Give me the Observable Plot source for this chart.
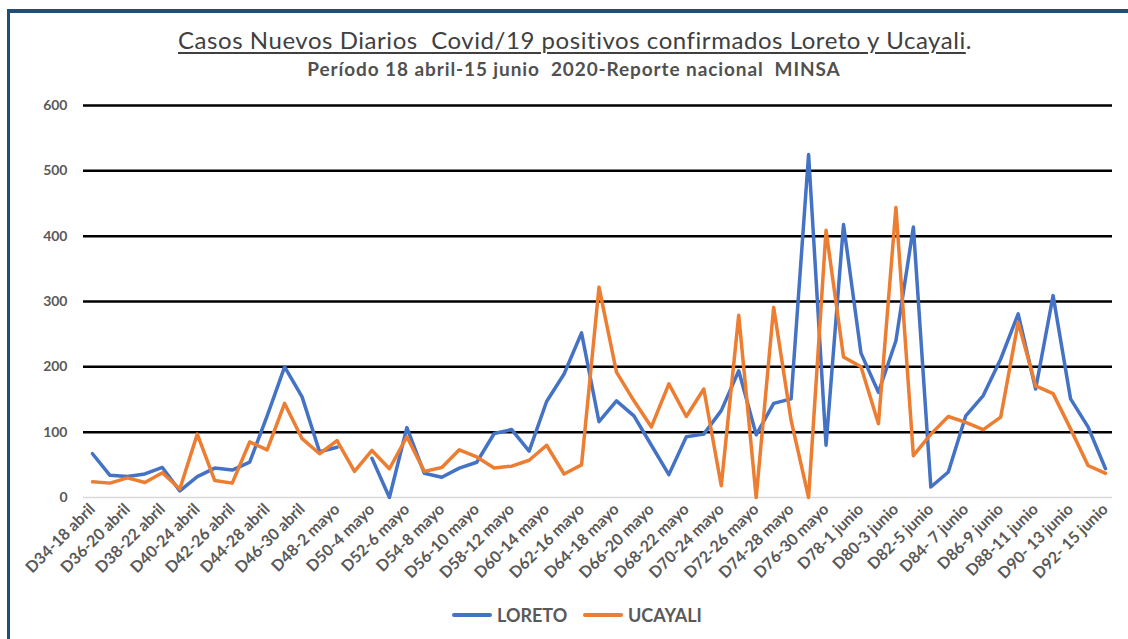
<!DOCTYPE html>
<html>
<head>
<meta charset="utf-8">
<script src="https://cdn.jsdelivr.net/npm/d3@7"></script>
<script src="https://cdn.jsdelivr.net/npm/@observablehq/plot@0.6"></script>
<style>
  html, body { margin:0; padding:0; background:#fff; width:1128px; height:639px; overflow:hidden; }
  #frame { position:absolute; left:7px; top:9px; width:1125px; height:640px;
           border-left:3px solid #1f4e79; border-top:4px solid #1f4e79; box-sizing:border-box; }
  #title { position:absolute; left:11px; top:25px; width:1128px; text-align:center;
           font-family:Lato, "Open Sans", sans-serif; font-size:24px; letter-spacing:0.55px; color:#404040; }
  #title span { text-decoration:underline; text-underline-offset:3px; text-decoration-thickness:1.5px; }
  #subtitle { position:absolute; left:10px; top:57px; width:1128px; text-align:center;
           font-family:Lato, "Open Sans", sans-serif; font-weight:bold; font-size:19px; letter-spacing:0.9px; color:#505050; }
  #chart { position:absolute; left:0; top:85px; }
  #legend { position:absolute; left:0; top:603px; width:1128px; font-family:Lato, "Open Sans", sans-serif;
            font-weight:bold; font-size:18px; color:#595959; }
  .item { position:absolute; top:0; display:flex; align-items:center; height:24px; }
  .sw { width:40px; height:4px; margin-right:5px; border-radius:2px; }
</style>
</head>
<body>
<div id="frame"></div>
<div id="title"><span>Casos Nuevos Diarios&nbsp; Covid/19 positivos confirmados Loreto y Ucayali</span>.</div>
<div id="subtitle">Período 18 abril-15 junio&nbsp; 2020-Reporte nacional&nbsp; MINSA</div>
<div id="chart"></div>
<div id="legend">
  <div class="item" style="left:452px"><div class="sw" style="background:#4472C4"></div>LORETO</div>
  <div class="item" style="left:583px"><div class="sw" style="background:#ED7D31"></div>UCAYALI</div>
</div>
<script>
const days = [
  "D34-18 abril","D35-19 abril","D36-20 abril","D37-21 abril","D38-22 abril","D39-23 abril",
  "D40-24 abril","D41-25 abril","D42-26 abril","D43-27 abril","D44-28 abril","D45-29 abril",
  "D46-30 abril","D47-1 mayo","D48-2 mayo","D49-3 mayo","D50-4 mayo","D51-5 mayo",
  "D52-6 mayo","D53-7 mayo","D54-8 mayo","D55-9 mayo","D56-10 mayo","D57-11 mayo",
  "D58-12 mayo","D59-13 mayo","D60-14 mayo","D61-15 mayo","D62-16 mayo","D63-17 mayo",
  "D64-18 mayo","D65-19 mayo","D66-20 mayo","D67-21 mayo","D68-22 mayo","D69-23 mayo",
  "D70-24 mayo","D71-25 mayo","D72-26 mayo","D73-27 mayo","D74-28 mayo","D75-29 mayo",
  "D76-30 mayo","D77-31 mayo","D78-1 junio","D79-2 junio","D80-3 junio","D81-4 junio",
  "D82-5 junio","D83-6 junio","D84- 7 junio","D85-8 junio","D86-9 junio","D87-10 junio",
  "D88-11 junio","D89-12 junio","D90- 13 junio","D91-14 junio","D92- 15 junio"
];
const shownLabels = days.filter((d, i) => i % 2 === 0);
const loreto = [
  67, 34, 32, 36, 46, 10,
  32, 45, 42, 54, 125, 200,
  154, 70, 77, null, 60, 0,
  107, 37, 31, 45, 54, 98,
  104, 71, 147, 189, 252, 116,
  148, 125, 80, 35, 93, 97,
  133, 194, 96, 144, 151, 525,
  80, 418, 221, 161, 240, 414,
  16, 39, 125, 156, 212, 281,
  166, 309, 151, 108, 44
];
const ucayali = [
  24, 22, 30, 23, 38, 13,
  97, 26, 22, 85, 73, 144,
  90, 67, 87, 40, 72, 44,
  93, 40, 46, 73, 62, 45,
  48, 57, 80, 36, 50, 322,
  192, 148, 108, 174, 124, 166,
  18, 279, 0, 291, 118, 0,
  409, 215, 200, 113, 444, 64,
  97, 124, 115, 104, 123, 268,
  171, 159, 105, 49, 37
];
const yTicks = [0, 100, 200, 300, 400, 500, 600];
const gridTicks = [100, 200, 300, 400, 500, 600];

const table = days.map((d, i) => ({day: d, loreto: loreto[i], ucayali: ucayali[i]}));

const chart = Plot.plot({
  width: 1128,
  height: 520,
  marginTop: 20,
  marginBottom: 108,
  marginLeft: 83,
  marginRight: 16,
  style: {fontFamily: "Lato, 'Open Sans', sans-serif", color: "#595959", background: "transparent"},
  x: {type: "point", domain: days, range: [92, 1105], padding: 0, round: false, label: null},
  y: {domain: [0, 600], label: null},
  marks: [
    Plot.ruleY(gridTicks, {stroke: "#000", strokeWidth: 2.5}),
    Plot.ruleY([0], {stroke: "#d9d9d9", strokeWidth: 1.5}),
    Plot.axisY({ticks: yTicks, tickSize: 0, tickPadding: 16, fontSize: 14, fontWeight: "bold", label: null}),
    Plot.axisX({ticks: shownLabels, tickSize: 0, tickPadding: 9, tickRotate: -45, fontSize: 16, fontWeight: "bold", label: null}),
    Plot.line(table, {x: "day", y: "loreto", stroke: "#4472C4", strokeWidth: 3.5, strokeLinejoin: "round"}),
    Plot.line(table, {x: "day", y: "ucayali", stroke: "#ED7D31", strokeWidth: 3.5, strokeLinejoin: "round"})
  ]
});
document.getElementById("chart").appendChild(chart);
</script>
</body>
</html>
